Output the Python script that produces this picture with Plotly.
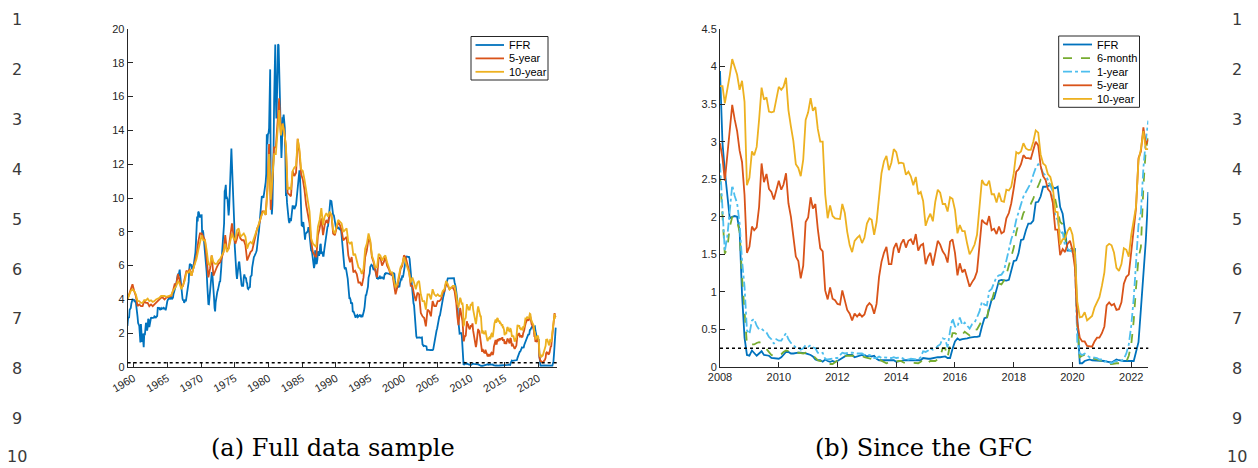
import pandas as pd
import plotly.graph_objects as go

# ---------------- data: monthly, Jan 2008 - Aug 2022 ----------------
gfc_start, gfc_end = "2008-01-01", "2022-08-01"

ffr_since_2008 = [
    3.94, 2.98, 2.61, 2.28, 1.98, 2.00, 2.01, 2.00, 1.81, 0.97, 0.39, 0.16,
    0.15, 0.22, 0.18, 0.15, 0.18, 0.21, 0.16, 0.16, 0.15, 0.12, 0.12, 0.12,
    0.11, 0.13, 0.16, 0.20, 0.20, 0.18, 0.18, 0.19, 0.19, 0.19, 0.19, 0.18,
    0.17, 0.16, 0.14, 0.10, 0.09, 0.09, 0.07, 0.10, 0.08, 0.07, 0.08, 0.07,
    0.08, 0.10, 0.13, 0.14, 0.16, 0.16, 0.16, 0.13, 0.14, 0.16, 0.16, 0.16,
    0.14, 0.15, 0.14, 0.15, 0.11, 0.09, 0.09, 0.08, 0.08, 0.09, 0.08, 0.09,
    0.07, 0.07, 0.08, 0.09, 0.09, 0.10, 0.09, 0.09, 0.09, 0.09, 0.09, 0.12,
    0.11, 0.11, 0.11, 0.12, 0.12, 0.13, 0.13, 0.14, 0.14, 0.12, 0.12, 0.24,
    0.34, 0.38, 0.36, 0.37, 0.37, 0.38, 0.39, 0.40, 0.40, 0.40, 0.41, 0.54,
    0.65, 0.66, 0.79, 0.90, 0.91, 1.04, 1.15, 1.16, 1.15, 1.15, 1.16, 1.30,
    1.41, 1.42, 1.51, 1.69, 1.70, 1.82, 1.91, 1.91, 1.95, 2.19, 2.20, 2.27,
    2.40, 2.40, 2.41, 2.42, 2.39, 2.38, 2.40, 2.13, 2.04, 1.83, 1.55, 1.55,
    1.55, 1.58, 0.65, 0.05, 0.05, 0.08, 0.09, 0.10, 0.09, 0.09, 0.09, 0.09,
    0.09, 0.08, 0.07, 0.07, 0.06, 0.08, 0.10, 0.09, 0.08, 0.08, 0.08, 0.08,
    0.08, 0.08, 0.20, 0.33, 0.77, 1.21, 1.68, 2.33,
]

t6m_since_2008 = [
    2.55, 2.05, 1.51, 1.58, 1.86, 2.00, 1.95, 1.94, 1.80, 1.20, 0.80, 0.30,
    0.30, 0.30, 0.30, 0.32, 0.33, 0.32, 0.28, 0.24, 0.19, 0.16, 0.15, 0.16,
    0.15, 0.17, 0.20, 0.22, 0.21, 0.20, 0.20, 0.19, 0.19, 0.18, 0.18, 0.19,
    0.18, 0.17, 0.16, 0.12, 0.09, 0.08, 0.08, 0.05, 0.04, 0.04, 0.04, 0.06,
    0.09, 0.11, 0.14, 0.15, 0.15, 0.15, 0.15, 0.14, 0.14, 0.15, 0.15, 0.13,
    0.12, 0.12, 0.11, 0.10, 0.09, 0.10, 0.08, 0.06, 0.05, 0.06, 0.08, 0.08,
    0.07, 0.08, 0.08, 0.06, 0.05, 0.06, 0.06, 0.06, 0.05, 0.05, 0.07, 0.10,
    0.06, 0.06, 0.08, 0.08, 0.08, 0.10, 0.14, 0.25, 0.25, 0.13, 0.30, 0.45,
    0.45, 0.43, 0.46, 0.43, 0.47, 0.44, 0.42, 0.49, 0.50, 0.50, 0.56, 0.62,
    0.62, 0.64, 0.82, 0.88, 0.99, 1.07, 1.11, 1.10, 1.15, 1.23, 1.35, 1.47,
    1.59, 1.79, 1.91, 1.94, 2.05, 2.10, 2.14, 2.17, 2.24, 2.34, 2.41, 2.49,
    2.46, 2.47, 2.46, 2.43, 2.40, 2.23, 2.09, 1.93, 1.90, 1.71, 1.59, 1.59,
    1.57, 1.53, 0.54, 0.13, 0.15, 0.16, 0.14, 0.13, 0.12, 0.12, 0.10, 0.09,
    0.08, 0.06, 0.05, 0.04, 0.04, 0.05, 0.05, 0.05, 0.05, 0.06, 0.07, 0.15,
    0.30, 0.62, 1.05, 1.45, 1.60, 2.40, 2.90, 3.05,
]

t1y_since_2008 = [
    2.71, 2.05, 1.54, 1.74, 2.06, 2.42, 2.28, 2.18, 1.91, 1.42, 1.07, 0.49,
    0.44, 0.62, 0.64, 0.55, 0.50, 0.51, 0.48, 0.46, 0.40, 0.37, 0.31, 0.37,
    0.35, 0.35, 0.40, 0.45, 0.37, 0.32, 0.29, 0.26, 0.26, 0.23, 0.25, 0.29,
    0.27, 0.29, 0.26, 0.25, 0.19, 0.18, 0.19, 0.11, 0.10, 0.11, 0.11, 0.12,
    0.12, 0.16, 0.19, 0.18, 0.19, 0.19, 0.19, 0.18, 0.18, 0.18, 0.18, 0.16,
    0.15, 0.16, 0.15, 0.12, 0.12, 0.14, 0.12, 0.13, 0.12, 0.12, 0.12, 0.13,
    0.12, 0.12, 0.13, 0.11, 0.10, 0.10, 0.11, 0.11, 0.11, 0.10, 0.13, 0.21,
    0.20, 0.22, 0.25, 0.23, 0.24, 0.28, 0.30, 0.38, 0.37, 0.26, 0.48, 0.65,
    0.54, 0.53, 0.66, 0.56, 0.59, 0.55, 0.51, 0.57, 0.59, 0.66, 0.74, 0.87,
    0.83, 0.82, 1.01, 1.04, 1.12, 1.20, 1.22, 1.23, 1.28, 1.40, 1.56, 1.70,
    1.80, 1.96, 2.06, 2.15, 2.27, 2.33, 2.39, 2.45, 2.56, 2.65, 2.70, 2.66,
    2.58, 2.55, 2.49, 2.42, 2.34, 2.00, 1.96, 1.77, 1.80, 1.61, 1.57, 1.55,
    1.53, 1.41, 0.33, 0.18, 0.16, 0.18, 0.15, 0.13, 0.13, 0.13, 0.12, 0.10,
    0.10, 0.07, 0.08, 0.06, 0.05, 0.07, 0.08, 0.07, 0.08, 0.11, 0.18, 0.30,
    0.55, 0.92, 1.34, 1.89, 2.06, 2.65, 3.02, 3.28,
]

t5y_since_2008 = [
    2.98, 2.78, 2.48, 2.84, 3.15, 3.49, 3.30, 3.14, 2.88, 2.73, 2.29, 1.52,
    1.60, 1.87, 1.82, 1.86, 2.13, 2.71, 2.46, 2.57, 2.37, 2.33, 2.23, 2.34,
    2.48, 2.36, 2.43, 2.58, 2.18, 2.00, 1.76, 1.47, 1.41, 1.18, 1.35, 1.93,
    1.99, 2.26, 2.11, 2.17, 1.84, 1.58, 1.54, 1.02, 0.90, 1.06, 0.91, 0.89,
    0.84, 0.83, 1.02, 0.89, 0.76, 0.71, 0.62, 0.71, 0.67, 0.71, 0.67, 0.70,
    0.81, 0.85, 0.82, 0.71, 0.84, 1.20, 1.40, 1.52, 1.60, 1.37, 1.37, 1.58,
    1.65, 1.52, 1.64, 1.70, 1.59, 1.68, 1.70, 1.63, 1.77, 1.55, 1.62, 1.64,
    1.37, 1.47, 1.52, 1.35, 1.54, 1.68, 1.63, 1.54, 1.49, 1.39, 1.67, 1.70,
    1.52, 1.22, 1.38, 1.26, 1.30, 1.17, 1.07, 1.13, 1.18, 1.27, 1.60, 1.96,
    1.92, 1.90, 2.01, 1.82, 1.84, 1.77, 1.87, 1.78, 1.80, 1.98, 2.05, 2.18,
    2.38, 2.60, 2.63, 2.70, 2.82, 2.78, 2.78, 2.77, 2.89, 3.00, 2.95, 2.68,
    2.54, 2.49, 2.37, 2.33, 2.19, 1.83, 1.83, 1.49, 1.57, 1.53, 1.64, 1.68,
    1.56, 1.32, 0.59, 0.39, 0.34, 0.34, 0.28, 0.27, 0.27, 0.34, 0.39, 0.39,
    0.45, 0.54, 0.82, 0.86, 0.82, 0.84, 0.76, 0.77, 0.86, 1.11, 1.20, 1.23,
    1.54, 1.81, 2.11, 2.78, 2.87, 3.19, 2.96, 3.03,
]

t10y_since_2008 = [
    3.74, 3.74, 3.51, 3.68, 3.88, 4.10, 4.01, 3.89, 3.69, 3.81, 3.53, 2.42,
    2.52, 2.87, 2.82, 2.93, 3.29, 3.72, 3.56, 3.59, 3.40, 3.39, 3.40, 3.59,
    3.73, 3.69, 3.73, 3.85, 3.42, 3.20, 3.01, 2.70, 2.65, 2.54, 2.76, 3.29,
    3.39, 3.58, 3.41, 3.46, 3.17, 3.00, 3.00, 2.30, 1.98, 2.15, 2.01, 1.98,
    1.97, 1.97, 2.17, 2.05, 1.80, 1.62, 1.53, 1.68, 1.72, 1.75, 1.65, 1.72,
    1.91, 1.98, 1.96, 1.76, 1.93, 2.30, 2.58, 2.74, 2.81, 2.62, 2.72, 2.90,
    2.86, 2.71, 2.72, 2.71, 2.56, 2.60, 2.54, 2.42, 2.53, 2.30, 2.33, 2.21,
    1.88, 1.98, 2.04, 1.94, 2.20, 2.36, 2.32, 2.17, 2.17, 2.07, 2.26, 2.24,
    2.09, 1.78, 1.89, 1.81, 1.81, 1.64, 1.50, 1.56, 1.63, 1.76, 2.14, 2.49,
    2.43, 2.42, 2.48, 2.30, 2.30, 2.19, 2.32, 2.21, 2.20, 2.36, 2.35, 2.40,
    2.58, 2.86, 2.84, 2.87, 2.98, 2.91, 2.89, 2.89, 3.00, 3.15, 3.12, 2.83,
    2.71, 2.68, 2.57, 2.53, 2.40, 2.07, 2.06, 1.63, 1.70, 1.71, 1.81, 1.86,
    1.76, 1.50, 0.87, 0.66, 0.67, 0.73, 0.62, 0.65, 0.68, 0.79, 0.87, 0.93,
    1.08, 1.26, 1.61, 1.64, 1.62, 1.52, 1.32, 1.28, 1.37, 1.58, 1.56, 1.47,
    1.76, 1.93, 2.13, 2.75, 2.90, 3.14, 2.90, 2.90,
]

# ---------------- data: FFR monthly, Jan 1959 - Dec 2007 ----------------
ffr_pre2008 = [
    2.48, 2.43, 2.80, 2.96, 2.90, 3.39, 3.47, 3.50, 3.76, 3.98, 4.00, 3.99,
    3.99, 3.97, 3.84, 3.92, 3.85, 3.32, 3.23, 2.98, 2.60, 2.47, 2.44, 1.98,
    1.45, 2.54, 2.02, 1.49, 1.98, 1.73, 1.17, 2.00, 1.88, 2.26, 2.62, 2.33,
    2.15, 2.37, 2.85, 2.78, 2.36, 2.68, 2.71, 2.93, 2.90, 2.90, 2.94, 2.93,
    2.92, 3.00, 2.98, 2.90, 3.00, 2.99, 3.02, 3.49, 3.48, 3.50, 3.48, 3.38,
    3.48, 3.48, 3.43, 3.47, 3.50, 3.50, 3.42, 3.50, 3.45, 3.36, 3.52, 3.85,
    3.90, 3.98, 4.04, 4.09, 4.10, 4.04, 4.09, 4.12, 4.01, 4.08, 4.10, 4.32,
    4.42, 4.60, 4.65, 4.67, 4.90, 5.17, 5.30, 5.53, 5.40, 5.53, 5.76, 5.40,
    4.94, 5.00, 4.53, 4.05, 3.94, 3.98, 3.79, 3.90, 3.99, 3.88, 4.13, 4.51,
    4.60, 4.71, 5.05, 5.76, 6.11, 6.07, 6.02, 6.03, 5.78, 5.91, 5.82, 6.02,
    6.30, 6.61, 6.79, 7.41, 8.67, 8.90, 8.61, 9.19, 9.15, 9.00, 8.85, 8.97,
    8.98, 8.98, 7.76, 8.10, 7.95, 7.61, 7.21, 6.61, 6.29, 6.20, 5.60, 4.90,
    4.14, 3.72, 3.71, 4.16, 4.63, 4.91, 5.31, 5.56, 5.55, 5.20, 4.91, 4.14,
    3.50, 3.29, 3.83, 4.17, 4.27, 4.46, 4.55, 4.80, 4.87, 5.04, 5.06, 5.33,
    5.94, 6.58, 7.09, 7.12, 7.84, 8.49, 10.40, 10.50, 10.78, 10.01, 10.03, 9.95,
    9.65, 8.97, 9.35, 10.51, 11.31, 11.93, 12.92, 12.01, 11.34, 10.06, 9.45, 8.53,
    7.13, 6.24, 5.54, 5.49, 5.22, 5.55, 6.10, 6.14, 6.24, 5.82, 5.22, 5.20,
    4.87, 4.77, 4.84, 4.82, 5.29, 5.48, 5.31, 5.29, 5.25, 5.02, 4.95, 4.65,
    4.61, 4.68, 4.69, 4.73, 5.35, 5.39, 5.42, 5.90, 6.14, 6.47, 6.51, 6.56,
    6.70, 6.78, 6.79, 6.89, 7.36, 7.60, 7.81, 8.04, 8.45, 8.96, 9.76, 10.03,
    10.07, 10.06, 10.09, 10.01, 10.24, 10.29, 10.47, 10.94, 11.43, 13.77, 13.18, 13.78,
    13.82, 14.13, 17.19, 17.61, 10.98, 9.47, 9.03, 9.61, 10.87, 12.81, 15.85, 18.90,
    19.08, 15.93, 14.70, 15.72, 18.52, 19.10, 19.04, 17.82, 15.87, 15.08, 13.31, 12.37,
    13.22, 14.78, 14.68, 14.94, 14.45, 14.15, 12.59, 10.12, 10.31, 9.71, 9.20, 8.95,
    8.68, 8.51, 8.77, 8.80, 8.63, 8.98, 9.37, 9.56, 9.45, 9.48, 9.34, 9.47,
    9.56, 9.59, 9.91, 10.29, 10.32, 11.06, 11.23, 11.64, 11.30, 9.99, 9.43, 8.38,
    8.35, 8.50, 8.58, 8.27, 7.97, 7.53, 7.88, 7.90, 7.92, 7.99, 8.05, 8.27,
    8.14, 7.86, 7.48, 6.99, 6.85, 6.92, 6.56, 6.17, 5.89, 5.85, 6.04, 6.91,
    6.43, 6.10, 6.13, 6.37, 6.85, 6.73, 6.58, 6.73, 7.22, 7.29, 6.69, 6.77,
    6.83, 6.58, 6.58, 6.87, 7.09, 7.51, 7.75, 8.01, 8.19, 8.30, 8.35, 8.76,
    9.12, 9.36, 9.85, 9.84, 9.81, 9.53, 9.24, 8.99, 9.02, 8.84, 8.55, 8.45,
    8.23, 8.24, 8.28, 8.26, 8.18, 8.29, 8.15, 8.13, 8.20, 8.11, 7.81, 7.31,
    6.91, 6.25, 6.12, 5.91, 5.78, 5.90, 5.82, 5.66, 5.45, 5.21, 4.81, 4.43,
    4.03, 4.06, 3.98, 3.73, 3.82, 3.76, 3.25, 3.30, 3.22, 3.10, 3.09, 2.92,
    3.02, 3.03, 3.07, 2.96, 3.00, 3.04, 3.06, 3.03, 3.09, 2.99, 3.02, 2.96,
    3.05, 3.25, 3.34, 3.56, 4.01, 4.25, 4.26, 4.47, 4.73, 4.76, 5.29, 5.45,
    5.53, 5.92, 5.98, 6.05, 6.01, 6.00, 5.85, 5.74, 5.80, 5.76, 5.80, 5.60,
    5.56, 5.22, 5.31, 5.22, 5.24, 5.27, 5.40, 5.22, 5.30, 5.24, 5.31, 5.29,
    5.25, 5.19, 5.39, 5.51, 5.50, 5.56, 5.52, 5.54, 5.54, 5.50, 5.52, 5.50,
    5.56, 5.51, 5.49, 5.45, 5.49, 5.56, 5.54, 5.55, 5.51, 5.07, 4.83, 4.68,
    4.63, 4.76, 4.81, 4.74, 4.74, 4.76, 4.99, 5.07, 5.22, 5.20, 5.42, 5.30,
    5.45, 5.73, 5.85, 6.02, 6.27, 6.53, 6.54, 6.50, 6.52, 6.51, 6.51, 6.40,
    5.98, 5.49, 5.31, 4.80, 4.21, 3.97, 3.77, 3.65, 3.07, 2.49, 2.09, 1.82,
    1.73, 1.74, 1.73, 1.75, 1.75, 1.75, 1.73, 1.74, 1.75, 1.75, 1.34, 1.24,
    1.24, 1.26, 1.25, 1.26, 1.26, 1.22, 1.01, 1.03, 1.01, 1.01, 1.00, 0.98,
    1.00, 1.01, 1.00, 1.00, 1.00, 1.03, 1.26, 1.43, 1.61, 1.76, 1.93, 2.16,
    2.28, 2.50, 2.63, 2.79, 3.00, 3.04, 3.26, 3.50, 3.62, 3.78, 4.00, 4.16,
    4.29, 4.49, 4.59, 4.79, 4.94, 4.99, 5.24, 5.25, 5.25, 5.25, 5.25, 5.24,
    5.25, 5.26, 5.26, 5.25, 5.25, 5.25, 5.26, 5.02, 4.94, 4.76, 4.49, 4.24,
]

# ---------------- data: 5-year and 10-year, quarterly (Feb/May/Aug/Nov), 1959 - 2007 ----------------
t5y_pre2008 = [
    4.0, 4.3, 4.6, 4.9,  4.5, 4.2, 3.6, 3.7,  3.6, 3.6, 3.9, 3.8,  3.8, 3.6, 3.7, 3.6,
    3.7, 3.8, 3.9, 4.0,  4.1, 4.1, 4.0, 4.1,  4.15, 4.15, 4.2, 4.5,  4.9, 4.9, 5.5, 5.1,
    4.7, 4.8, 5.3, 5.7,  5.6, 5.8, 5.4, 5.8,  6.2, 6.6, 7.4, 7.9,  7.9, 7.7, 7.5, 6.4,
    5.3, 5.8, 6.6, 5.4,  5.7, 5.9, 6.1, 6.2,  6.5, 6.8, 7.8, 6.9,  7.0, 7.9, 8.5, 7.7,
    7.3, 7.6, 8.0, 7.6,  7.5, 7.5, 7.2, 6.3,  6.6, 6.8, 6.9, 7.3,  7.8, 8.2, 8.4, 8.8,
    9.2, 9.2, 9.0, 10.6,  13.2, 9.3, 11.2, 13.0,  13.0, 14.3, 15.9, 13.8,  14.4, 14.0, 13.0, 10.3,
    10.2, 10.1, 11.6, 11.3,  11.5, 13.5, 12.7, 11.4,  11.1, 10.5, 9.6, 9.1,  8.5, 7.4, 6.8, 6.6,
    6.5, 7.8, 8.2, 8.8,  7.8, 8.4, 8.7, 8.5,  9.1, 9.0, 7.9, 7.8,  8.2, 8.6, 8.4, 8.1,
    7.5, 7.6, 7.7, 6.6,  6.2, 6.5, 5.6, 5.7,  5.5, 5.0, 5.0, 4.8,  5.3, 6.5, 6.9, 7.6,
    7.4, 6.5, 6.2, 5.7,  5.3, 6.4, 6.5, 6.0,  6.2, 6.5, 6.0, 5.8,  5.5, 5.6, 5.0, 4.3,
    4.7, 5.3, 5.8, 6.0,  6.6, 6.5, 6.1, 5.7,  4.8, 4.8, 4.3, 3.9,  4.4, 4.3, 3.2, 3.0,
    2.9, 2.4, 3.4, 3.3,  3.0, 3.9, 3.6, 3.6,  3.9, 3.9, 4.0, 4.4,  4.5, 5.0, 4.8, 4.6,
    4.7, 4.7, 4.5, 3.8,
]

t10y_pre2008 = [
    4.0, 4.2, 4.5, 4.6,  4.5, 4.3, 3.9, 3.9,  3.8, 3.8, 3.95, 3.95,  4.05, 3.9, 3.95, 3.85,
    3.9, 4.0, 4.05, 4.1,  4.2, 4.2, 4.2, 4.15,  4.2, 4.2, 4.25, 4.5,  4.7, 4.8, 5.1, 4.9,
    4.6, 4.8, 5.1, 5.6,  5.6, 5.7, 5.4, 5.8,  6.1, 6.4, 6.9, 7.4,  7.8, 7.5, 7.5, 6.9,
    6.1, 6.0, 6.6, 6.2,  6.1, 6.1, 6.3, 6.4,  6.6, 6.8, 7.3, 6.8,  7.0, 7.5, 7.9, 7.6,
    7.5, 8.1, 8.2, 7.7,  7.8, 7.9, 7.7, 7.0,  7.3, 7.4, 7.3, 7.6,  7.9, 8.3, 8.5, 8.9,
    9.1, 9.2, 9.0, 10.3,  12.6, 9.9, 11.3, 12.6,  12.6, 13.8, 15.2, 13.7,  14.4, 13.9, 13.1, 10.5,
    10.6, 10.5, 11.6, 11.8,  11.9, 13.5, 12.9, 11.7,  11.6, 11.1, 10.4, 9.8,  9.2, 7.6, 7.3, 7.2,
    7.1, 8.3, 8.7, 9.4,  8.4, 8.9, 9.1, 8.9,  9.2, 9.0, 8.1, 7.9,  8.4, 8.7, 8.6, 8.5,
    8.0, 8.1, 8.2, 7.4,  7.3, 7.4, 6.6, 6.7,  6.3, 5.9, 5.8, 5.5,  5.8, 7.0, 7.3, 7.9,
    7.5, 6.6, 6.3, 5.9,  5.9, 6.7, 6.6, 6.3,  6.5, 6.6, 6.2, 5.9,  5.6, 5.6, 5.2, 4.7,
    4.9, 5.5, 5.9, 6.1,  6.5, 6.2, 5.9, 5.6,  5.0, 5.3, 5.0, 4.6,  5.0, 5.1, 4.3, 3.9,
    3.9, 3.4, 4.3, 4.3,  4.0, 4.6, 4.3, 4.2,  4.3, 4.2, 4.2, 4.5,  4.6, 5.1, 4.9, 4.6,
    4.7, 4.8, 4.8, 4.3,
]

zero_lower_bound = 0.25

captions = ["(a) Full data sample", "(b) Since the GFC"]
line_numbers = [str(k) for k in range(1, 11)]

# ---------------- build series ----------------
gfc_dates = list(pd.date_range(gfc_start, gfc_end, freq="MS"))
ffr_pre_dates = list(pd.date_range("1959-01-01", "2007-12-01", freq="MS"))
q_pre_dates = list(pd.date_range("1959-02-01", "2007-11-01", freq="3MS"))

for s in (ffr_since_2008, t6m_since_2008, t1y_since_2008, t5y_since_2008, t10y_since_2008):
    assert len(s) == len(gfc_dates), len(s)
assert len(ffr_pre2008) == len(ffr_pre_dates)
assert len(t5y_pre2008) == len(q_pre_dates) == len(t10y_pre2008)

full_ffr_x = ffr_pre_dates + gfc_dates
full_ffr_y = ffr_pre2008 + ffr_since_2008
full_5y_x = q_pre_dates + gfc_dates
full_5y_y = t5y_pre2008 + t5y_since_2008
full_10y_y = t10y_pre2008 + t10y_since_2008

C_FFR, C_5Y, C_10Y, C_6M, C_1Y = "#0072BD", "#D95319", "#EDB120", "#77AC30", "#4DBEEE"
LW = 1.8
W, H = 1258, 468
AX = "#262626"

# (name, colour, dash) per panel, in legend order
left_series = [("FFR", C_FFR, "solid"), ("5-year", C_5Y, "solid"), ("10-year", C_10Y, "solid")]
right_series = [("FFR", C_FFR, "solid"), ("6-month", C_6M, "dash"), ("1-year", C_1Y, "dashdot"),
                ("5-year", C_5Y, "solid"), ("10-year", C_10Y, "solid")]

fig = go.Figure()

# left panel
left_data = [(full_ffr_x, full_ffr_y), (full_5y_x, full_5y_y), (full_5y_x, full_10y_y)]
for (nm, col, dash), (xs, ys) in zip(left_series, left_data):
    fig.add_trace(go.Scatter(x=xs, y=ys, name=nm, mode="lines", showlegend=False,
                             line=dict(color=col, width=LW, dash=dash), xaxis="x", yaxis="y"))

# right panel
right_data = [ffr_since_2008, t6m_since_2008, t1y_since_2008, t5y_since_2008, t10y_since_2008]
for (nm, col, dash), ys in zip(right_series, right_data):
    fig.add_trace(go.Scatter(x=gfc_dates, y=ys, name=nm, mode="lines", showlegend=False,
                             line=dict(color=col, width=LW, dash=dash), xaxis="x2", yaxis="y2"))

# dotted reference line at 0.25
for xr, yr in (("x domain", "y"), ("x2 domain", "y2")):
    fig.add_shape(type="line", xref=xr, yref=yr, x0=0, x1=1, y0=zero_lower_bound, y1=zero_lower_bound,
                  line=dict(color="black", width=1.5, dash="dot"), layer="above")

tickfont = dict(family="Liberation Sans, Arial, sans-serif", size=11, color=AX)
common_axis = dict(showline=True, linecolor=AX, linewidth=1, ticks="inside", ticklen=5,
                   tickcolor=AX, tickwidth=1, showgrid=False, zeroline=False, tickfont=tickfont,
                   mirror=False, automargin=False)

ytop, ybot = 29, 367
ydom = [(H - ybot) / H, (H - ytop) / H]

fig.update_layout(
    width=W, height=H, margin=dict(l=0, r=0, t=0, b=0, autoexpand=False),
    paper_bgcolor="white", plot_bgcolor="white",
    showlegend=False,
    xaxis=dict(domain=[127.7 / W, 557 / W], range=["1959-02-15", "2022-10-10"], type="date",
               tick0="1960-01-01", dtick="M60", tickformat="%Y", tickangle=-30,
               anchor="y", **common_axis),
    yaxis=dict(domain=ydom, range=[0, 20], dtick=2, anchor="x", **common_axis),
    xaxis2=dict(domain=[720 / W, 1148.3 / W], range=["2008-01-01", "2022-08-01"], type="date",
                tick0="2008-01-01", dtick="M24", tickformat="%Y", tickangle=0,
                anchor="y2", **common_axis),
    yaxis2=dict(domain=ydom, range=[0, 4.5], dtick=0.5, anchor="x2", **common_axis),
)

# ---------------- legend boxes (MATLAB-style, compact) ----------------
annotations = []
leg_font = dict(family="Liberation Sans, Arial, sans-serif", size=11, color="black")


def add_legend(series, box, key_x0, key_x1, text_x, row_y0, row_dy):
    bx0, by0, bx1, by1 = box
    fig.add_shape(type="rect", xref="paper", yref="paper",
                  x0=bx0 / W, x1=bx1 / W, y0=1 - by1 / H, y1=1 - by0 / H,
                  line=dict(color=AX, width=1), fillcolor="white", layer="above")
    for i, (nm, col, dash) in enumerate(series):
        yy = 1 - (row_y0 + i * row_dy) / H
        fig.add_shape(type="line", xref="paper", yref="paper", x0=key_x0 / W, x1=key_x1 / W,
                      y0=yy, y1=yy, line=dict(color=col, width=LW, dash=dash), layer="above")
        annotations.append(dict(text=nm, x=text_x / W, y=yy, xref="paper", yref="paper",
                                xanchor="left", yanchor="middle", showarrow=False, font=leg_font))


add_legend(left_series, (471, 36.5, 548, 80), 475.5, 504, 507, 45, 13.4)
add_legend(right_series, (1058.7, 36, 1139.5, 107.3), 1063, 1092, 1095, 44.5, 13.6)

# ---------------- line numbers & captions ----------------
num_font = dict(family="DejaVu Sans, sans-serif", size=16, color="#3a3a3a")
for k, lab in enumerate(line_numbers):
    yc = 20 + 49.8 * k
    for xc in (17, 1237):
        if k == len(line_numbers) - 1:
            annotations.append(dict(text=lab, x=xc / W, y=0, xref="paper", yref="paper",
                                    xanchor="center", yanchor="bottom", showarrow=False, font=num_font))
        else:
            annotations.append(dict(text=lab, x=xc / W, y=1 - yc / H, xref="paper", yref="paper",
                                    xanchor="center", yanchor="middle", showarrow=False, font=num_font))
for cap, xc in zip(captions, (333, 924)):
    annotations.append(dict(text=cap, x=xc / W, y=1 - 448 / H, xref="paper", yref="paper",
                            xanchor="center", yanchor="middle", showarrow=False,
                            font=dict(family="DejaVu Serif, serif", size=24, color="black")))
fig.update_layout(annotations=annotations)

fig.write_html("out.html", config={"displayModeBar": False},
               post_script="document.body.style.margin='0';")
